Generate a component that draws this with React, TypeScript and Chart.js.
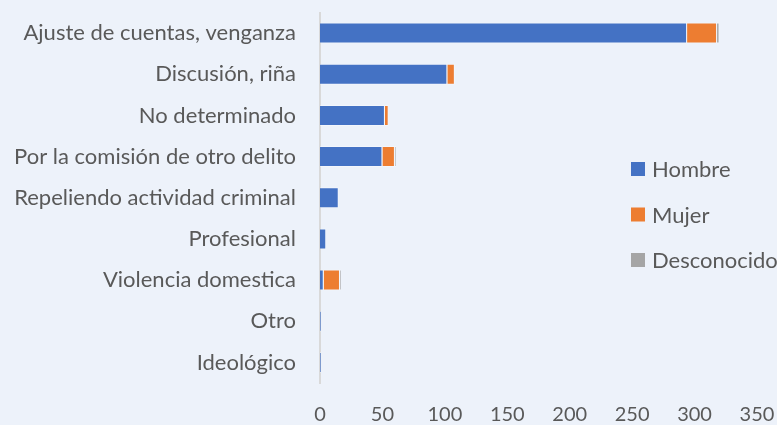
import React, { useEffect, useRef } from "react";
import { Chart, registerables } from "chart.js";
Chart.register(...registerables);

const categories = [
  "Ajuste de cuentas, venganza",
  "Discusión, riña",
  "No determinado",
  "Por la comisión de otro delito",
  "Repeliendo actividad criminal",
  "Profesional",
  "Violencia domestica",
  "Otro",
  "Ideológico",
];
const hombre = [294, 102, 52, 50, 15, 5, 3, 1, 1];
const mujer = [24, 6, 3, 10, 0, 0, 13, 0, 0];
const desconocido = [2, 0, 0, 1, 0, 0, 1, 0, 0];
const xTicks = [0, 50, 100, 150, 200, 250, 300, 350];

const FONT = "Lato, 'Open Sans', sans-serif";
const TEXT = "#595959";

const legendPlugin = {
  id: "customLegend",
  afterDraw(chart: any) {
    const ctx = chart.ctx;
    ctx.save();
    ctx.font = `22px ${FONT}`;
    ctx.textBaseline = "middle";
    const x0 = 631;
    const y0 = 169;
    chart.data.datasets.forEach((ds: any, i: number) => {
      const y = y0 + i * 45.5;
      ctx.fillStyle = ds.backgroundColor;
      ctx.fillRect(x0, y - 7, 14, 14);
      ctx.fillStyle = TEXT;
      ctx.textAlign = "left";
      ctx.fillText(ds.label, x0 + 21, y + 1);
    });
    ctx.restore();
  },
};

const bgPlugin = {
  id: "bg",
  beforeDraw(chart: any) {
    const ctx = chart.ctx;
    ctx.save();
    ctx.fillStyle = "#EDF2FA";
    ctx.fillRect(0, 0, chart.width, chart.height);
    ctx.restore();
  },
};

export default function App() {
  const ref = useRef<HTMLCanvasElement>(null);
  useEffect(() => {
    document.body.style.margin = "0";
    const border = "rgba(255,255,255,0.35)";
    const chart = new Chart(ref.current!, {
      type: "bar",
      data: {
        labels: categories,
        datasets: [
          { label: "Hombre", data: hombre, backgroundColor: "#4472C4", borderColor: border, borderWidth: 1 },
          { label: "Mujer", data: mujer, backgroundColor: "#ED7D31", borderColor: border, borderWidth: 1 },
          { label: "Desconocido", data: desconocido, backgroundColor: "#A5A5A5", borderColor: border, borderWidth: 1 },
        ],
      },
      options: {
        indexAxis: "y",
        responsive: false,
        animation: false,
        layout: { padding: { left: 0, right: 20, top: 12.5, bottom: 0 } },
        datasets: { bar: { categoryPercentage: 1, barPercentage: 0.51 } },
        plugins: { legend: { display: false }, tooltip: { enabled: false } },
        scales: {
          x: {
            stacked: true,
            min: 0,
            max: 350,
            afterBuildTicks: (s: any) => { s.ticks = xTicks.map((v) => ({ value: v })); },
            afterFit: (s: any) => { s.height = 42; s.paddingLeft = 0; s.paddingRight = 0; },
            grid: { display: false, drawTicks: false },
            border: { display: false },
            ticks: { color: TEXT, font: { family: FONT, size: 20 }, padding: 20, maxRotation: 0 },
          },
          y: {
            stacked: true,
            afterFit: (s: any) => { s.width = 320; s.paddingTop = 0; s.paddingBottom = 0; },
            grid: { display: false, drawTicks: false },
            border: { display: true, color: "#D9D9D9", width: 2 },
            ticks: { color: TEXT, font: { family: FONT, size: 22 }, padding: 24, autoSkip: false },
          },
        },
      },
      plugins: [bgPlugin, legendPlugin],
    });
    return () => chart.destroy();
  }, []);
  return <canvas ref={ref} width={777} height={425} style={{ display: "block" }} />;
}
